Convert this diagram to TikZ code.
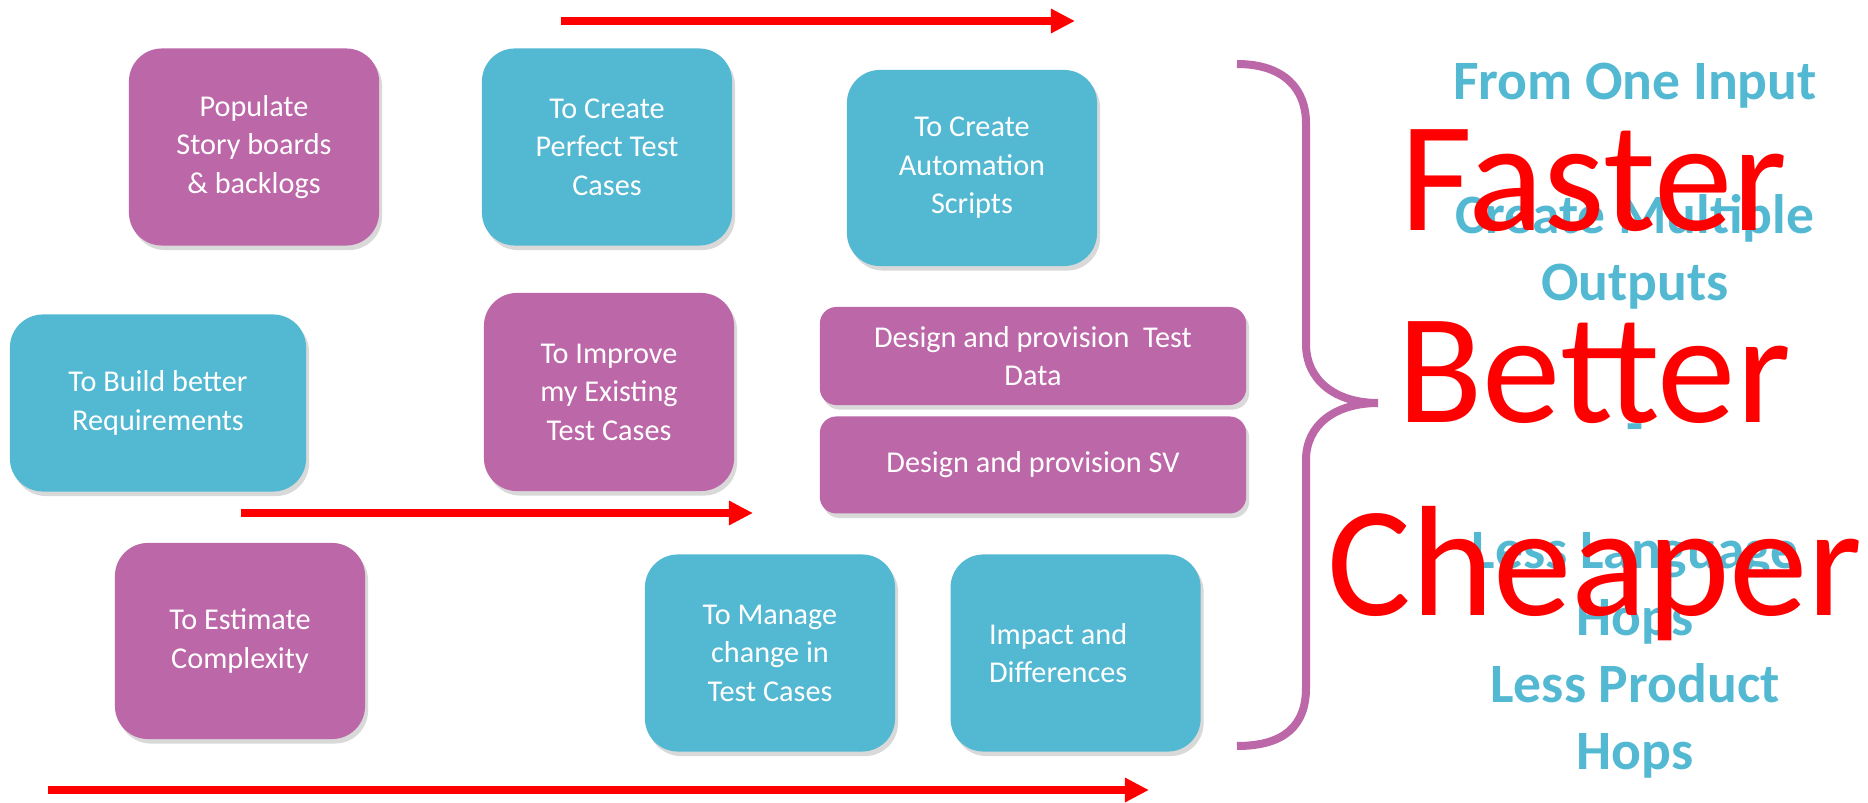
\documentclass[tikz,border=0pt]{standalone}
\usepackage{fontspec}
\setmainfont{Carlito}
\usetikzlibrary{arrows.meta, positioning, shadows}
\usepackage{xcolor}
\definecolor{boxpurple}{HTML}{BC67A8}
\definecolor{boxblue}{HTML}{53B8D2}

\begin{document}
\begin{tikzpicture}[
x=0.01cm, y=-0.01cm,
node distance=0.54cm,
box/.style={rectangle,
rounded corners=0.33cm,
minimum width=2.5cm,
minimum height=1.97cm,
text=white,
align=center,
font=\fontsize{8.6}{10.95}\selectfont,
drop shadow={shadow xshift=0.03cm, shadow yshift=-0.045cm, opacity=0.3}},
purplebox/.style={box, fill=boxpurple},
bluebox/.style={box, fill=boxblue},
widebox/.style={purplebox, rounded corners=0.165cm, minimum width=4.26cm, minimum height=0.98cm},
arrow/.style={-{Triangle[length=0.24cm, width=0.23cm]}, red, line width=0.08cm},
bigword/.style={anchor=base, text=red, font=\fontsize{44.7}{54.8}\selectfont}
]

\useasboundingbox (0,0) rectangle (1868,803);

\node[purplebox] (populate) at (254,147) {Populate\\Story boards\\\& backlogs};
\node[bluebox] (perfect) at (607,147) {To Create\\Perfect Test\\Cases};
\node[bluebox, minimum height=1.96cm] (automation) at (972,168) {To Create\\Automation\\Scripts};
\node[bluebox, minimum width=2.96cm, minimum height=1.77cm] (requirements) at (158,403) {To Build better\\Requirements};
\node[purplebox, minimum height=1.98cm] (improve) at (609,392) {To Improve\\my Existing\\Test Cases};
\node[widebox] (testdata) at (1033,356) {Design and provision\ \ Test\\Data};
\node[widebox, minimum height=0.97cm, below=0.1cm of testdata] (sv) {Design and provision SV};
\node[purplebox, minimum height=1.96cm] (estimate) at (240,641) {To Estimate\\Complexity};
\node[bluebox] (manage) at (770,653) {To Manage\\change in\\Test Cases};
\node[bluebox, align=flush left, text width=1.73cm, right=of manage] (impact) {Impact and\\Differences};

\coordinate (topstart) at (561,21);
\coordinate (topend) at (1075,21);
\coordinate (midstart) at (241,513);
\coordinate (midend) at (753,513);
\coordinate (lowstart) at (48,790);
\coordinate (lowend) at (1149,790);

\draw[arrow] (topstart) -- (topend);
\draw[arrow] (midstart) -- (midend);
\draw[arrow] (lowstart) -- (lowend);

\draw[boxpurple, line width=0.08cm] (1237,64) .. controls (1285,64) and (1306,90) .. (1306,123) -- (1306,344) .. controls (1306,380) and (1335,403) .. (1378,403) .. controls (1335,403) and (1306,425) .. (1306,460) -- (1306,688) .. controls (1306,725) and (1285,746) .. (1237,746);

\node[text=boxblue, font=\bfseries\fontsize{15.8}{19.06}\selectfont, align=center] (benefits) at (1635,421) {From One Input\\ \mbox{}\\ Create Multiple\\ Outputs\\ \mbox{}\\ \raisebox{-0.08cm}{-}\\ \mbox{}\\ Less Language\\ Hops\\ Less Product\\ Hops};

\node[bigword] (faster) at (1594,230) {Faster};
\node[bigword] (better) at (1594,422) {Better};
\node[bigword] (cheaper) at (1595,615) {Cheaper};

\end{tikzpicture}
\end{document}
